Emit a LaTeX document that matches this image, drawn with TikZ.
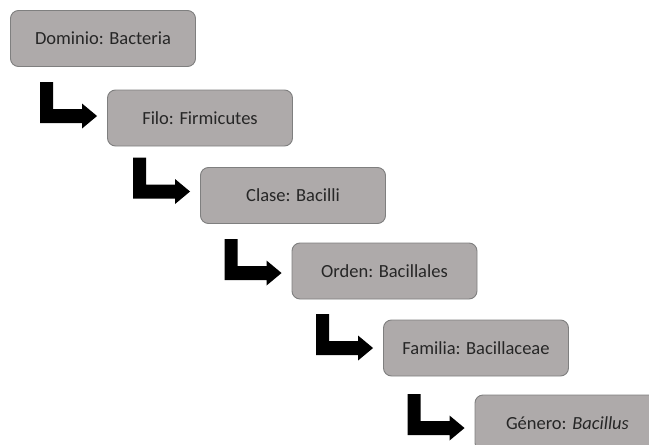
\documentclass[tikz,border=0pt]{standalone}
\usepackage{fontspec}
\setmainfont{Carlito}
\definecolor{boxfill}{HTML}{AEAAAA}
\definecolor{boxline}{HTML}{7F7F7F}
\definecolor{boxtext}{HTML}{262626}
\tikzset{
  taxbox/.style={draw=boxline, line width=0.9pt, fill=boxfill, rounded corners=8pt,
    minimum width=185pt, minimum height=56pt, inner sep=0pt, text=boxtext,
    font=\fontsize{18.5}{22}\selectfont},
  blockarrow/.style={fill=black, draw=none}
}
\newcommand{\lshapearrow}[2]{%
  \fill[blockarrow, shift={(#1.west)}, yshift=#2]
    (-10,0) -- (-25,12.5) -- (-25,7) -- (-67,7) -- (-67,-34) -- (-54,-34)
    -- (-54,-7) -- (-25,-7) -- (-25,-12.5) -- cycle;}
\begin{document}
\begin{tikzpicture}[x=1pt, y=-1pt]
\useasboundingbox (0,0) rectangle (649,445);
\begin{scope}
\clip (0,0) rectangle (649,445);
\node[taxbox] (b1) at (103,38.5) {Dominio: Bacteria};
\node[taxbox] (b2) at (200,118) {Filo: Firmicutes};
\node[taxbox] (b3) at (293,195.5) {Clase: Bacilli};
\node[taxbox] (b4) at (384.5,271) {Orden: Bacillales};
\node[taxbox] (b5) at (476,348) {Familia: Bacillaceae};
\node[taxbox] (b6) at (567.5,423) {Género: \textit{Bacillus}};
\lshapearrow{b2}{2pt}
\lshapearrow{b3}{4pt}
\lshapearrow{b4}{-2pt}
\lshapearrow{b5}{0pt}
\lshapearrow{b6}{-5pt}
\end{scope}
\end{tikzpicture}
\end{document}
